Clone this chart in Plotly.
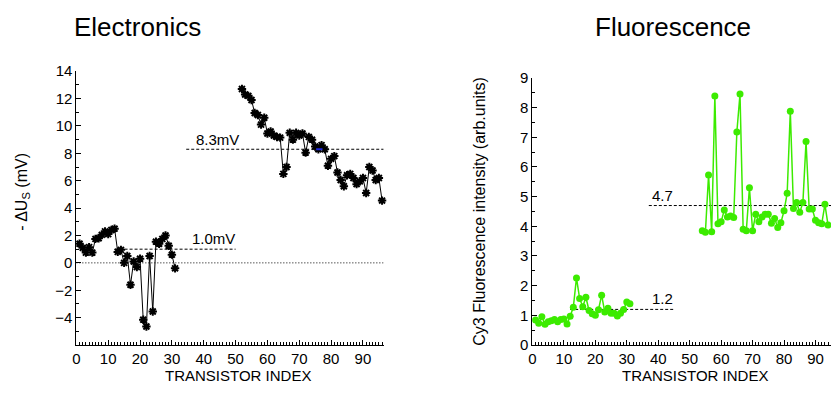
import plotly.graph_objects as go

# ---------------- data ----------------
elec_x1 = list(range(1, 32))
elec_y1 = [1.4, 1.1, 0.75, 1.15, 0.75, 1.75, 1.8, 2.05, 2.3, 2.1, 2.4, 2.5, 0.8, 0.95, 0.0,
           0.5, -1.6, 0.1, -0.3, 0.3, -4.15, -4.65, 0.5, -3.55, 1.55, 1.4, 1.75, 2.0, 1.25,
           0.6, -0.4]
elec_x2 = list(range(52, 97))
elec_y2 = [12.7, 12.3, 12.2, 11.9, 10.95, 10.8, 10.1, 10.6, 9.45, 9.6, 9.3, 9.2, 9.15, 6.5,
           7.0, 9.5, 9.0, 9.5, 9.3, 9.45, 8.05, 9.2, 9.0, 8.5, 8.3, 8.6, 8.3, 7.1, 7.6, 7.8,
           6.6, 6.05, 5.6, 6.4, 6.5, 6.2, 5.75, 5.95, 6.2, 5.1, 7.0, 6.75, 6.05, 6.2, 4.55]
elec_mean_low = 1.0
elec_mean_low_x = [12, 50]
elec_mean_high = 8.3
elec_mean_high_x = [34.5, 96.5]
elec_zero_x = [0, 96.5]
elec_blue_x = [75.3, 77.3]

fluo_x1 = list(range(1, 32))
fluo_y1 = [0.84, 0.73, 0.95, 0.7, 0.78, 0.82, 0.86, 0.78, 0.86, 0.88, 0.71, 0.97, 1.27, 2.26,
           1.57, 1.29, 1.61, 1.16, 1.05, 1.0, 1.19, 1.68, 1.11, 1.24, 1.07, 1.07, 0.98, 1.07,
           1.2, 1.45, 1.39]
fluo_x2 = list(range(54, 95))
fluo_y2 = [3.85, 3.8, 5.73, 3.82, 8.39, 4.09, 4.15, 4.55, 4.31, 4.35, 4.3, 7.18, 8.46, 3.9,
           3.85, 5.3, 3.85, 4.41, 4.15, 4.31, 4.41, 4.41, 4.1, 4.26, 3.96, 4.12, 4.52, 5.11,
           7.88, 4.6, 4.8, 4.47, 4.8, 6.86, 4.58, 4.58, 4.2, 4.12, 4.09, 4.74, 4.04]
fluo_mean_low = 1.2
fluo_mean_low_x = [12, 45]
fluo_mean_high = 4.7
fluo_mean_high_x = [37, 95]

elec_xticks = [0, 10, 20, 30, 40, 50, 60, 70, 80, 90]
elec_yticks = [-4, -2, 0, 2, 4, 6, 8, 10, 12, 14]
fluo_xticks = [0, 10, 20, 30, 40, 50, 60, 70, 80, 90]
fluo_yticks = [0, 1, 2, 3, 4, 5, 6, 7, 8, 9]

# ---------------- layout helpers ----------------
W, H = 831, 398
def px(x):
    return x / W
def py(y):
    return 1 - y / H

FONT = "Liberation Sans, Arial, sans-serif"
GREEN = "rgb(60,235,0)"

fig = go.Figure()

# left panel
fig.add_trace(go.Scatter(x=elec_zero_x, y=[0, 0], mode="lines",
                         line=dict(color="black", width=1, dash="1px,2px"),
                         xaxis="x", yaxis="y", hoverinfo="skip"))
fig.add_trace(go.Scatter(x=elec_mean_low_x, y=[elec_mean_low] * 2, mode="lines",
                         line=dict(color="black", width=1, dash="3px,2px"),
                         xaxis="x", yaxis="y"))
fig.add_trace(go.Scatter(x=elec_mean_high_x, y=[elec_mean_high] * 2, mode="lines",
                         line=dict(color="black", width=1, dash="3px,2px"),
                         xaxis="x", yaxis="y"))
for xs, ys in [(elec_x1, elec_y1), (elec_x2, elec_y2)]:
    fig.add_trace(go.Scatter(x=xs, y=ys, mode="lines+markers",
                             line=dict(color="black", width=1),
                             marker=dict(symbol="asterisk-open", size=7, color="black",
                                         line=dict(color="black", width=2)),
                             xaxis="x", yaxis="y", cliponaxis=False))
fig.add_trace(go.Scatter(x=elec_blue_x, y=[elec_mean_high] * 2, mode="lines",
                         line=dict(color="rgb(30,40,220)", width=2),
                         xaxis="x", yaxis="y"))

# right panel
fig.add_trace(go.Scatter(x=fluo_mean_low_x, y=[fluo_mean_low] * 2, mode="lines",
                         line=dict(color="black", width=1, dash="3px,2px"),
                         xaxis="x2", yaxis="y2"))
fig.add_trace(go.Scatter(x=fluo_mean_high_x, y=[fluo_mean_high] * 2, mode="lines",
                         line=dict(color="black", width=1, dash="3px,2px"),
                         xaxis="x2", yaxis="y2", cliponaxis=False))
for xs, ys in [(fluo_x1, fluo_y1), (fluo_x2, fluo_y2)]:
    fig.add_trace(go.Scatter(x=xs, y=ys, mode="lines+markers",
                             line=dict(color=GREEN, width=1.5),
                             marker=dict(symbol="circle", size=7, color=GREEN),
                             xaxis="x2", yaxis="y2", cliponaxis=False))

def axis_style(domain, rng, tickvals, minor_dtick, anchor):
    return dict(domain=domain, range=rng, tickvals=tickvals, anchor=anchor,
                showline=True, linecolor="black", linewidth=1, mirror=False,
                showgrid=False, zeroline=False, ticks="inside", ticklen=5,
                tickcolor="black", tickwidth=1,
                minor=dict(dtick=minor_dtick, ticks="inside", ticklen=3,
                           tickcolor="black", tickwidth=1, showgrid=False),
                tickfont=dict(family=FONT, size=15, color="black"))

L0, L1 = 72.7, 381.5
R0, R1 = 531, 831
fig.update_layout(
    width=W, height=H, margin=dict(l=0, r=0, t=0, b=0),
    paper_bgcolor="white", plot_bgcolor="white", showlegend=False,
    xaxis=axis_style([px(L0), px(L1)], [0, (L1 - L0) / 3.2], elec_xticks, 1, "y"),
    yaxis=axis_style([py(351), py(65)], [-6, 14], elec_yticks, 1, "x"),
    xaxis2=axis_style([px(R0), px(R1)], [0, (R1 - R0) / 3.16], fluo_xticks, 1, "y2"),
    yaxis2=axis_style([py(351), py(72)], [0, 9], fluo_yticks, 0.5, "x2"),
)

ann = []
def add(text, x, y, size, xref="paper", yref="paper", xanchor="center", yanchor="middle", angle=0):
    ann.append(dict(text=text, x=x, y=y, xref=xref, yref=yref, showarrow=False,
                    xanchor=xanchor, yanchor=yanchor, textangle=angle,
                    font=dict(family=FONT, size=size, color="black")))

add("Electronics", px(68), py(19), 26, xanchor="left")
add("Fluorescence", px(592), py(19), 26, xanchor="left")
add("TRANSISTOR INDEX", px(235), py(383), 15)
add("TRANSISTOR INDEX", px(694), py(383), 15)
add("- ΔU<sub>S</sub> (mV)", px(19), py(191), 16, angle=-90)
add("Cy3 Fluorescence intensity (arb.units)", px(478), py(211), 16, angle=-90)
add("8.3mV", 44.2, 9.0, 15, xref="x", yref="y")
add("1.0mV", 43.2, 1.75, 15, xref="x", yref="y")
add("4.7", 41.5, 5.03, 15, xref="x2", yref="y2")
add("1.2", 41.5, 1.58, 15, xref="x2", yref="y2")
fig.update_layout(annotations=ann)

fig.write_html("out.html")
